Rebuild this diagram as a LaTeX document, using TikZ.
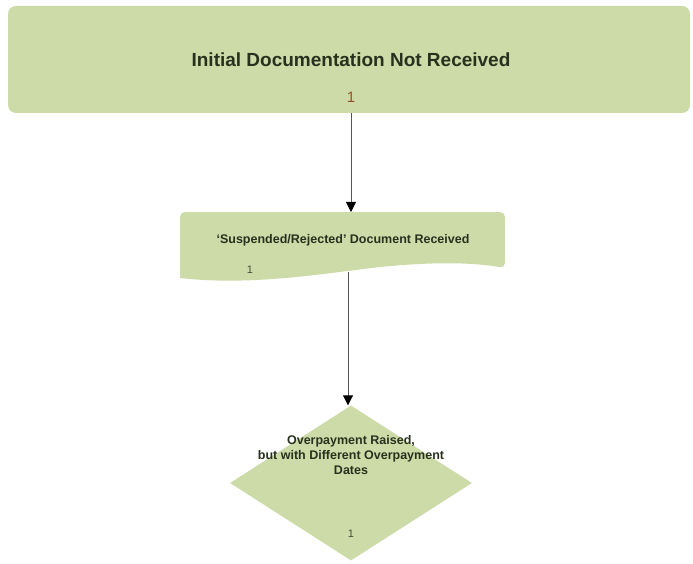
\documentclass[tikz,border=0pt]{standalone}
\usepackage{fontspec}
\setmainfont{Liberation Sans}
\usetikzlibrary{shapes.geometric,arrows.meta}

\definecolor{boxfill}{RGB}{205,219,168}
\definecolor{boxtext}{RGB}{40,48,30}
\definecolor{numtop}{RGB}{150,80,40}
\definecolor{numgray}{RGB}{70,78,60}
\definecolor{linkgray}{RGB}{85,85,85}

\tikzset{
  stepshape/.style={fill=boxfill, draw=none},
  title/.style={font=\bfseries\fontsize{19}{22}\selectfont, text=boxtext},
  smalltext/.style={font=\bfseries\fontsize{12.5}{15}\selectfont, text=boxtext, align=center},
  counter/.style={font=\fontsize{11}{13}\selectfont},
  link/.style={draw=linkgray, line width=0.9pt,
    -{Triangle[length=10pt,width=10pt,fill=black,color=black]}}
}

\begin{document}
\begin{tikzpicture}[x=1pt,y=-1pt]
  \useasboundingbox (0,0) rectangle (693,564);

  % top process box
  \node[stepshape, rounded corners=8pt, minimum width=682pt, minimum height=107pt,
        inner sep=0pt] (initial) at (349,59.5) {};
  \node[title] (initialText) at (351,60) {Initial Documentation Not Received};
  \node[counter, font=\fontsize{15}{17}\selectfont, text=numtop] (initialNum) at (351,97) {1};

  % document shape with wavy bottom edge
  \path[stepshape, rounded corners=5pt]
    (180,246) -- (180,212) -- (505,212) -- (505,268)
    [sharp corners] .. controls (470,262) and (430,262) .. (380,267)
    .. controls (320,274) and (250,286) .. (180,278) -- cycle;
  \coordinate (docTop) at (351,212);
  \coordinate (docBottom) at (348,272);
  \node[smalltext] (docText) at (343,240) {`Suspended/Rejected' Document Received};
  \node[counter, text=numgray] (docNum) at (250,270) {1};

  % decision diamond
  \node[stepshape, diamond, minimum width=242pt, minimum height=155pt, inner sep=0pt]
        (decision) at (351,483) {};
  \node[smalltext] (decisionText) at (351,455)
        {Overpayment Raised,\\but with Different Overpayment\\Dates};
  \node[counter, text=numgray] (decisionNum) at (351,534) {1};

  % connectors
  \draw[link] (initial.south -| docTop) -- (docTop);
  \draw[link] (docBottom) -- (docBottom |- decision.north);
\end{tikzpicture}
\end{document}
